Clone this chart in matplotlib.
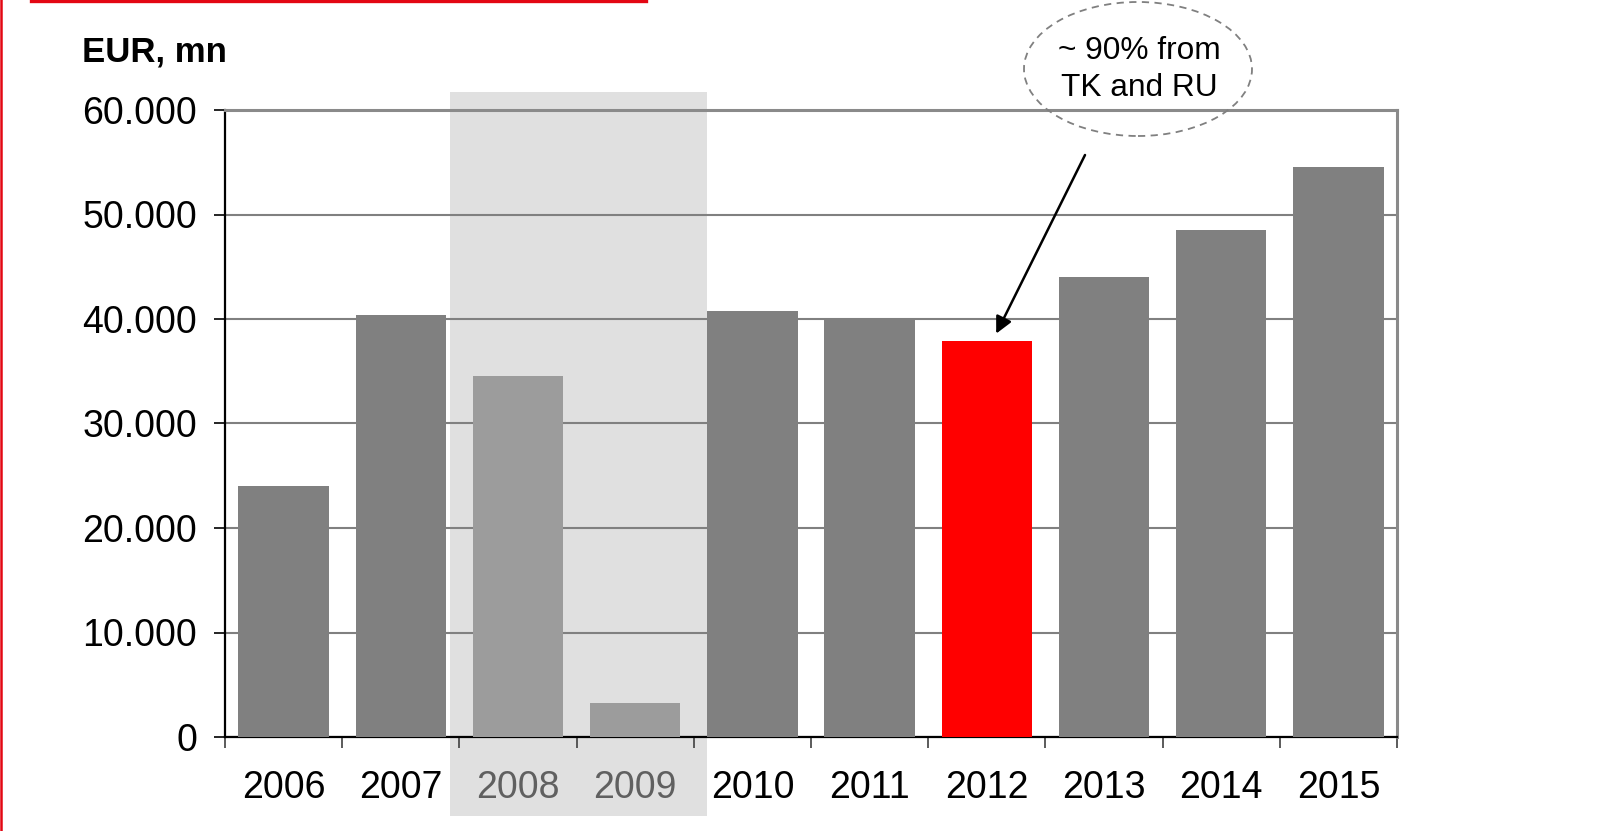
import matplotlib
matplotlib.use("Agg")
import matplotlib.pyplot as plt
from matplotlib.patches import Rectangle, Ellipse
import matplotlib.transforms as mtransforms

plt.rcParams['font.family'] = ['Liberation Sans', 'DejaVu Sans']

years = ['2006', '2007', '2008', '2009', '2010', '2011', '2012', '2013', '2014', '2015']
values = [24000, 40400, 34500, 3300, 40800, 40000, 37900, 44000, 48500, 54500]
bar_colors = ['#808080', '#808080', '#9c9c9c', '#9c9c9c', '#808080',
              '#808080', '#ff0000', '#808080', '#808080', '#808080']
label_colors = ['black', 'black', '#606060', '#606060', 'black',
                'black', 'black', 'black', 'black', 'black']
yticks = [0, 10000, 20000, 30000, 40000, 50000, 60000]
ytick_labels = ['0', '10.000', '20.000', '30.000', '40.000', '50.000', '60.000']

fig = plt.figure(figsize=(16.03, 8.31), dpi=100)
ax = fig.add_axes([225/1603, 1-737/831, (1397-225)/1603, (737-110)/831])

x = list(range(len(years)))
ax.bar(x, values, width=0.77, color=bar_colors, zorder=3)
ax.set_xlim(-0.5, len(years)-0.5)
ax.set_ylim(0, 60000)

# shaded crisis period (2008-2009), extends beyond axes vertically
trans = mtransforms.blended_transform_factory(ax.transData, fig.transFigure)
rect = Rectangle((1.42, 1-816/831), 3.615-1.42, (816-92)/831, transform=trans,
                 facecolor='#e0e0e0', edgecolor='none', zorder=0, clip_on=False)
ax.add_patch(rect)

ax.set_yticks(yticks)
ax.set_yticklabels(ytick_labels)
ax.yaxis.grid(True, color='#808080', linewidth=1.5, zorder=1)
ax.set_axisbelow(True)

# x ticks at category boundaries, labels at centers
ax.set_xticks([i - 0.5 for i in range(len(years)+1)])
ax.set_xticklabels([])
ax.set_xticks(x, minor=True)
ax.set_xticklabels(years, minor=True)
for lbl, c in zip(ax.get_xticklabels(minor=True), label_colors):
    lbl.set_color(c)
ax.tick_params(axis='x', which='major', length=8, width=1.2, color='#404040', direction='out')
ax.tick_params(axis='x', which='minor', length=0, pad=24, labelsize=27)
ax.tick_params(axis='y', length=8, width=1.2, pad=12, labelsize=27, direction='out')

ax.set_facecolor('none')
for s in ['left', 'bottom']:
    ax.spines[s].set_color('black')
    ax.spines[s].set_linewidth(1.6)
for s in ['top', 'right']:
    ax.spines[s].set_color('#8a8a8a')
    ax.spines[s].set_linewidth(2.2)

fig.text(82/1603, 1-52/831, 'EUR, mn', fontsize=25, fontweight='bold',
         ha='left', va='center')

# annotation ellipse + text + arrow
ell = Ellipse((1138/1603, 1-69/831), 228/1603, 134/831, transform=fig.transFigure,
              facecolor='none', edgecolor='#808080', linestyle=(0, (4, 3)),
              linewidth=1.3)
fig.add_artist(ell)
fig.text(1139/1603, 1-69.5/831, '~ 90% from\nTK and RU', fontsize=22.8,
         ha='center', va='center', linespacing=1.32)
ax.annotate('', xy=(6.08, 38600), xycoords='data',
            xytext=(1085/1603, 1-155/831), textcoords='figure fraction',
            arrowprops=dict(arrowstyle='-|>', color='black', lw=1.8,
                            mutation_scale=25, shrinkA=0, shrinkB=0),
            annotation_clip=False)

# decorative red frame lines
fig.add_artist(plt.Line2D([31/1603, 646/1603], [1-1.2/831, 1-1.2/831],
                          transform=fig.transFigure, color='#e30613', linewidth=2.4))
fig.add_artist(plt.Line2D([1.2/1603, 1.2/1603], [0, 1],
                          transform=fig.transFigure, color='#e30613', linewidth=1.8))

fig.savefig('out.png', dpi=100)
